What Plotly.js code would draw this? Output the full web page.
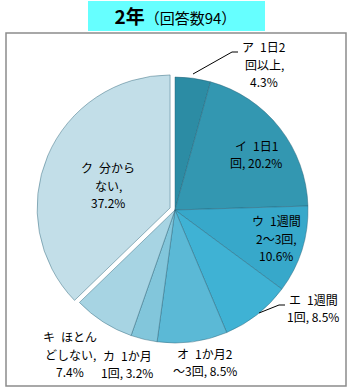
<!DOCTYPE html>
<html>
<head>
<meta charset="utf-8">
<script src="https://cdn.plot.ly/plotly-3.0.1.min.js"></script>
<style>html,body{margin:0;padding:0;background:#fff;}#chart{width:353px;height:391px;}</style>
</head>
<body>
<div id="chart"></div>
<script>
// ---- data ----
var categories = ['ア 1日2回以上','イ 1日1回','ウ 1週間2～3回','エ 1週間1回','オ 1か月2～3回','カ 1か月1回','キ ほとんどしない','ク 分からない'];
var values = [4.3, 20.2, 10.6, 8.5, 8.5, 3.2, 7.4, 37.2];
var wrappedLabels = [['ア\u20021日2','回以上'],['イ\u20021日1','回'],['ウ\u20021週間','2～3回'],['エ\u20021週間','1回'],['オ\u20021か月2','～3回'],['カ\u20021か月','1回'],['キ\u2002ほとん','どしない'],['ク\u2002分から','ない']];
var valueOnNewLine = [true, false, true, false, false, false, true, true];
var titleMain = '2年';
var titleSub = '（回答数94）';

// ---- styles ----
var W = 353, H = 391;
var colors = ['#2c8ca4','#3397b1','#37a8ca','#3fb2d4','#5bb9d6','#82c6db','#a7d4e3','#c2dee8'];
var pulls = [0,0,0,0,0,0,0,0.04];
function px(x){return x/W;}
function py(y){return 1-y/H;}

// label centre positions (pixels)
var labelPos = [[264,64],[256,154],[276,238],[313,308],[205,362],[127,364],[70,354],[108,185]];
var lineGap = 17.5;

var annotations = [];
values.forEach(function(v,i){
  var lines = wrappedLabels[i].slice();
  var vs = v.toFixed(1) + '%';
  if (valueOnNewLine[i]) { lines[lines.length-1] += ','; lines.push(vs); }
  else { lines[lines.length-1] += ', ' + vs; }
  var n = lines.length;
  lines.forEach(function(t,k){
    annotations.push({text:t, x:px(labelPos[i][0]), y:py(labelPos[i][1] + (k-(n-1)/2)*lineGap),
      xref:'paper', yref:'paper', xanchor:'center', yanchor:'middle', showarrow:false,
      font:{family:'"Noto Sans CJK JP", sans-serif', size:12, color:'#000'}});
  });
});

var shapes = [
  {type:'rect', xref:'paper', yref:'paper', x0:px(88), x1:px(265), y0:py(1), y1:py(31), fillcolor:'#66ffff', line:{width:0}, layer:'below'},
  {type:'rect', xref:'paper', yref:'paper', x0:px(6), x1:px(346), y0:py(33), y1:py(386), line:{color:'#8c8c8c', width:1.5}},
  // leader lines
  {type:'line', xref:'paper', yref:'paper', x0:px(193), y0:py(74), x1:px(232), y1:py(52), line:{color:'#000', width:1}},
  {type:'line', xref:'paper', yref:'paper', x0:px(232), y0:py(52), x1:px(238), y1:py(52), line:{color:'#000', width:1}},
  {type:'line', xref:'paper', yref:'paper', x0:px(259), y0:py(313), x1:px(279), y1:py(305), line:{color:'#000', width:1}},
  {type:'line', xref:'paper', yref:'paper', x0:px(279), y0:py(305), x1:px(285), y1:py(305), line:{color:'#000', width:1}}
];

var r = 133, cx = 175, cy = 210, R = r*1.04;
var trace = {
  type:'pie', labels:categories, values:values, sort:false, direction:'clockwise', rotation:0,
  pull:pulls, textinfo:'none', hoverinfo:'none',
  marker:{colors:colors, line:{color:'rgba(40,95,115,0.55)', width:0.8}},
  domain:{x:[px(cx-R), px(cx+R)], y:[py(cy+R), py(cy-R)]},
  showlegend:false
};

var layout = {
  width:W, height:H, margin:{l:0,r:0,t:0,b:0},
  paper_bgcolor:'#fff', plot_bgcolor:'#fff',
  title:{text:'<b>'+titleMain+'</b><span style="font-size:15px">'+titleSub+'</span>',
    x:0.497, xref:'paper', xanchor:'center', y:1-17/H, yref:'container', yanchor:'middle',
    font:{family:'"Noto Sans CJK JP", sans-serif', size:19, color:'#000'}},
  shapes:shapes, annotations:annotations, showlegend:false
};
Plotly.newPlot('chart', [trace], layout, {staticPlot:true, displayModeBar:false});
</script>
</body>
</html>
